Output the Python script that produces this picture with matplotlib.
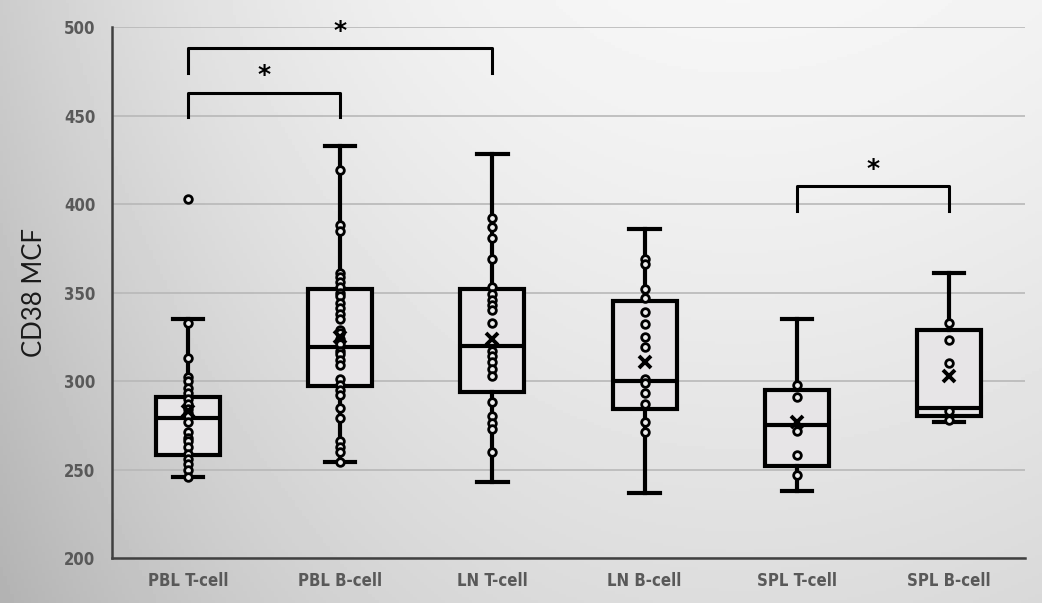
import numpy as np
import matplotlib.pyplot as plt

# groups and box statistics
groups = ["PBL T-cell", "PBL B-cell", "LN T-cell", "LN B-cell", "SPL T-cell", "SPL B-cell"]
wlo = [246, 254, 243, 237, 238, 277]
q1 = [258, 297, 294, 284, 252, 280]
med = [279, 319, 320, 300, 275, 285]
q3 = [291, 352, 352, 345, 295, 329]
whi = [335, 433, 428, 386, 335, 361]
means = [283, 325, 324, 311, 277, 303]

# individual points
pbl_t = [333, 313, 302, 300, 296, 293, 290, 287, 284, 282, 280, 277, 271, 268, 266, 263, 259, 256, 253, 250, 246]
pbl_b = [419, 388, 385, 361, 359, 356, 353, 350, 348, 344, 341, 338, 335, 329, 327, 324, 321, 317, 315, 312,
         309, 301, 298, 295, 292, 285, 279, 266, 263, 260, 254]
ln_t = [392, 387, 381, 369, 353, 349, 346, 343, 340, 333, 317, 314, 311, 307, 303, 288, 280, 276, 273, 260]
ln_b = [369, 366, 352, 347, 339, 332, 325, 319, 301, 299, 293, 287, 277, 271]
spl_t = [298, 291, 272, 258, 247]
spl_b = [333, 323, 310, 283, 278]
points = [pbl_t, pbl_b, ln_t, ln_b, spl_t, spl_b]
outliers = [[403], [], [], [], [], []]

# significance brackets: (left group, right group, bar height, leg bottom)
brackets = [(0, 1, 463, 449), (0, 2, 488, 474), (4, 5, 410, 396)]

fig = plt.figure(figsize=(10.42, 6.03), dpi=100)

# grey gradient background
bg = fig.add_axes([0, 0, 1, 1], zorder=-5)
xx, yy = np.meshgrid(np.linspace(0, 1, 300), np.linspace(0, 1, 200))
shade = 0.98 - 0.18 * (1 - xx) ** 3 - 0.10 * (1 - yy) ** 1.2 - 0.03 * xx ** 3
bg.imshow(shade, cmap="gray", vmin=0, vmax=1, aspect="auto", extent=[0, 1, 0, 1], origin="lower")
bg.axis("off")

ax = fig.add_axes([0.1075, 0.0746, 0.8762, 0.8806])
ax.patch.set_alpha(0)

stats = []
for i in range(len(groups)):
    stats.append(dict(med=med[i], q1=q1[i], q3=q3[i], whislo=wlo[i], whishi=whi[i],
                      mean=means[i], fliers=[]))
pos = np.arange(len(groups))
ax.bxp(stats, positions=pos, widths=0.42, showmeans=False, showfliers=False, patch_artist=True,
       boxprops=dict(facecolor="#e7e5e7", edgecolor="black", linewidth=3),
       medianprops=dict(color="black", linewidth=3),
       whiskerprops=dict(color="black", linewidth=3),
       capprops=dict(color="black", linewidth=3), capwidths=0.2,
       manage_ticks=False, zorder=3)

for i in range(len(groups)):
    ax.plot([pos[i]] * len(points[i]), points[i], "o", ms=5.5, mfc="#ececec", mec="black", mew=2, zorder=4)
    if outliers[i]:
        ax.plot([pos[i]] * len(outliers[i]), outliers[i], "o", ms=5.5, mfc="#ececec", mec="black", mew=2, zorder=4)
    ax.plot(pos[i], means[i], "x", ms=9, mec="black", mew=2.8, zorder=5)

for a, b, h, low in brackets:
    ax.plot([pos[a], pos[a], pos[b], pos[b]], [low, h, h, low], color="black", lw=2.2,
            solid_joinstyle="round", zorder=3)
    ax.text((pos[a] + pos[b]) / 2, h + 3, "*", ha="center", va="bottom", fontsize=18,
            fontweight="bold", color="black")

ax.set_xlim(-0.5, 5.5)
ax.set_ylim(200, 500)
ax.set_yticks(np.arange(200, 501, 50))
ax.set_xticks(pos)
ax.set_xticklabels(groups)
ax.yaxis.grid(True, color="#b8b8b8", lw=1.2)
ax.set_axisbelow(True)
ax.tick_params(length=0, pad=12)
for lab in ax.get_xticklabels() + ax.get_yticklabels():
    lab.set_fontfamily("DejaVu Sans")
    lab.set_fontstretch("condensed")
    lab.set_fontweight("bold")
    lab.set_color("#595959")
    lab.set_fontsize(12)
ax.tick_params(axis="x", pad=10)
for s in ["top", "right"]:
    ax.spines[s].set_visible(False)
for s in ["left", "bottom"]:
    ax.spines[s].set_color("#404040")
    ax.spines[s].set_linewidth(1.8)
ax.set_ylabel("CD38 MCF", fontsize=18.5, fontfamily="Lato", color="#1a1a1a", labelpad=12)

fig.savefig("out.png", dpi=100)
